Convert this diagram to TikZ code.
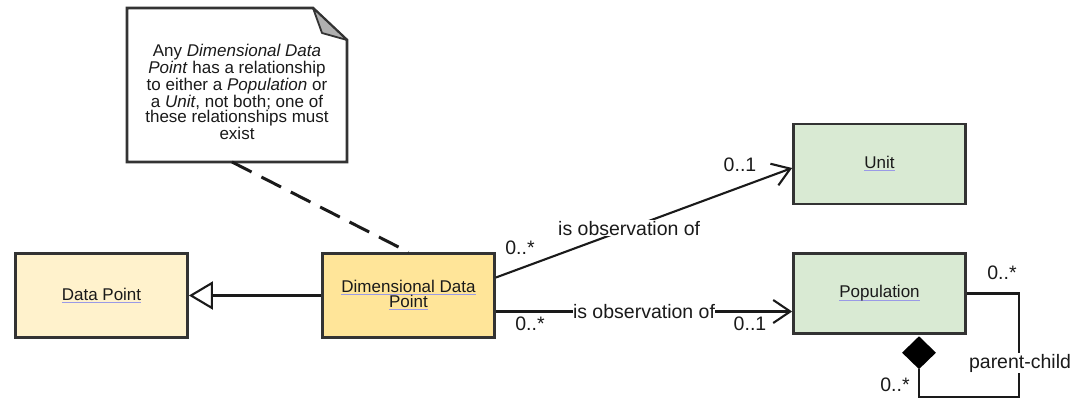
\documentclass[tikz,border=0pt]{standalone}
\usepackage{xcolor}
\usepackage{fontspec}
\setmainfont{Liberation Sans}
\usepackage{tikz}
\usetikzlibrary{arrows.meta,shapes.geometric}
\definecolor{inkK}{HTML}{1A1A1A}
\definecolor{edgeG}{HTML}{333333}
\definecolor{lButter}{HTML}{FFF2CC}
\definecolor{cButter}{HTML}{FFE599}
\definecolor{lMint}{HTML}{D9EAD3}
\definecolor{ulBlue}{HTML}{9A9AE6}
\definecolor{foldG}{HTML}{B0B0B0}

\newlength\ulw
\newcommand\ulink[1]{\settowidth\ulw{#1}\rlap{\textcolor{ulBlue}{\rule[-2.6pt]{\ulw}{1pt}}}#1}

\tikzset{
  cls/.style={draw=edgeG, line width=2.8pt, minimum width=172pt,
              font=\fontsize{17}{15}\selectfont, text=inkK,
              align=center, inner sep=0pt},
  lbl/.style={font=\fontsize{19.5}{20}\selectfont, text=inkK, inner sep=1pt},
  conn/.style={draw=inkK, line width=2.1pt},
  barb/.style={-{Straight Barb[length=17pt,width=23pt]}},
}

\begin{document}
\begin{tikzpicture}[x=1pt,y=-1pt]
  \useasboundingbox (0,0) rectangle (1073,399);

  % classes
  \node[cls, fill=lButter, minimum height=84pt] (dp) at (101.5,295.5) {\ulink{Data Point}};
  \node[cls, fill=cButter, minimum height=84pt] (ddp) at (408.5,295.5)
    {\ulink{Dimensional Data}\\\ulink{Point}};
  \node[cls, fill=lMint, minimum height=80pt] (unit) at (879.5,164) {\ulink{Unit}};
  \node[cls, fill=lMint, minimum height=80pt] (pop) at (879.5,293.5) {\ulink{Population}};

  % note
  \draw[edgeG, line width=2.6pt, fill=white]
    (127,8) -- (313,8) -- (347,40) -- (347,162) -- (127,162) -- cycle;
  \draw[edgeG, line width=1.8pt, fill=foldG, line join=round]
    (313,8) -- (322,33) -- (347,40) -- cycle;
  \node[font=\fontsize{17}{15}\selectfont, text=inkK, align=center] (note) at (237,92)
    {Any \textit{Dimensional Data}\\\textit{Point} has a relationship\\to either a \textit{Population} or\\
     a \textit{Unit}, not both; one of\\these relationships must\\exist};
  \coordinate (notebot) at (232,162);
  \draw[inkK, line width=3pt, dash pattern=on 22pt off 11pt] (notebot) -- (ddp.north);

  % generalization
  \draw[conn, -{Triangle[open,length=24pt,width=28pt]}] (ddp.west) -- (dp.east);

  % associations
  \draw[conn, barb] ([yshift=18pt]ddp.east) -- ([yshift=-4pt]unit.west)
    node[lbl, pos=0.45, fill=white] (obsU) {is observation of};
  \node[lbl] (mUa) at (520,248) {0..*};
  \node[lbl] (mUb) at (740,165) {0..1};

  \draw[conn, barb] ([yshift=-16pt]ddp.east) -- ([yshift=-16pt]ddp.east -| pop.west)
    node[lbl, midway, fill=white, inner sep=0pt] (obsP) {is observation of};
  \node[lbl] (mPa) at (530,324) {0..*};
  \node[lbl] (mPb) at (750,324) {0..1};

  % composition self loop
  \node[diamond, fill=black, inner sep=0pt, minimum width=34pt, minimum height=33pt,
        anchor=north] (dia) at (919,336) {};
  \coordinate (loopc) at (1019,397);
  \draw[conn] (pop.east) -| (loopc) -| (dia.south);
  \node[lbl, fill=white] (pc) at (1020,363) {parent-child};
  \node[lbl] (mLa) at (1002,273) {0..*};
  \node[lbl] (mLb) at (895,385) {0..*};
\end{tikzpicture}
\end{document}
